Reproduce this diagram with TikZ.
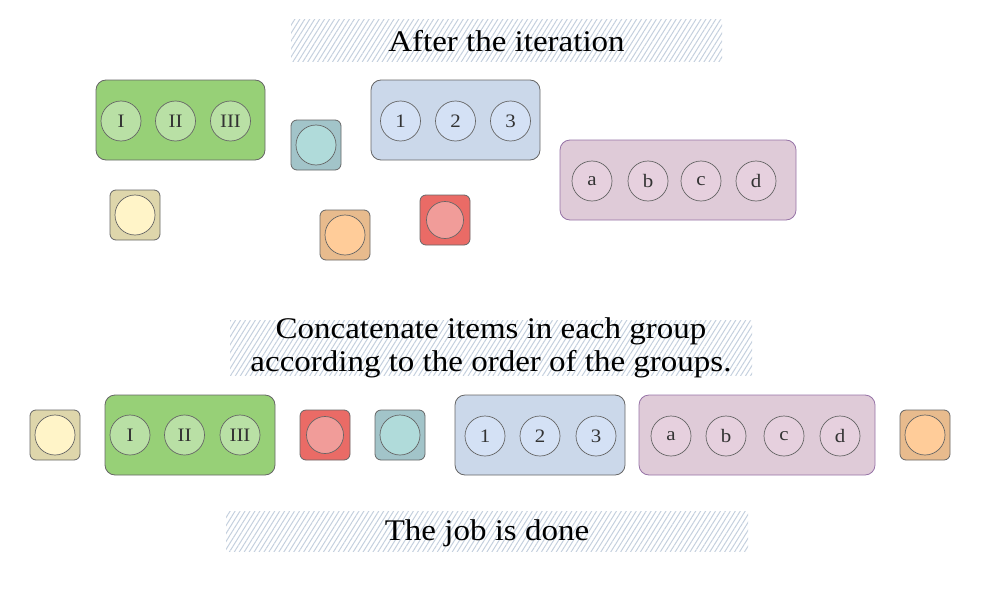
\documentclass[tikz,border=0pt]{standalone}
\usepackage{fontspec}
\setmainfont{Liberation Serif}[FakeStretch=1.1]
\usetikzlibrary{patterns.meta}
\definecolor{hatchc}{HTML}{C4D0DE}
\definecolor{strokec}{HTML}{666666}
\definecolor{grpgreen}{HTML}{97D077}
\definecolor{cirgreen}{HTML}{B9E0A5}
\definecolor{grpblue}{HTML}{CBD8EA}
\definecolor{cirblue}{HTML}{D4E1F5}
\definecolor{grppurple}{HTML}{DFCBD8}
\definecolor{cirpurple}{HTML}{E6D0DE}
\definecolor{strpurple}{HTML}{9673A6}
\definecolor{boxyellow}{HTML}{DED6AB}
\definecolor{ciryellow}{HTML}{FFF4C8}
\definecolor{boxteal}{HTML}{A2C4C9}
\definecolor{cirteal}{HTML}{B0DBDA}
\definecolor{boxorange}{HTML}{E8BB8D}
\definecolor{cirorange}{HTML}{FFCC99}
\definecolor{boxred}{HTML}{EA6B66}
\definecolor{cirred}{HTML}{F19C99}
\definecolor{labelc}{HTML}{333333}
\tikzset{
  hatchbox/.style={inner sep=0pt, pattern={Lines[angle=58,distance=4.2pt,line width=1pt]}, pattern color=hatchc},
  titletext/.style={inner sep=0pt, align=center, font=\fontsize{30}{33}\selectfont, text=black},
  grp/.style={draw=strokec, line width=0.8pt, rounded corners=10pt, minimum height=80pt, inner sep=0pt},
  sbox/.style={draw=strokec, line width=0.8pt, rounded corners=6pt, minimum width=50pt, minimum height=50pt, inner sep=0pt},
  item/.style={circle, draw=strokec, line width=0.7pt, minimum size=40pt, inner sep=0pt, text=labelc, font=\fontsize{19}{19}\selectfont},
  gitem/.style={item, fill=cirgreen},
  bitem/.style={item, fill=cirblue},
  pitem/.style={item, fill=cirpurple},
}
\begin{document}
\begin{tikzpicture}[x=1pt,y=-1pt]
\useasboundingbox (0,0) rectangle (981,602);
% titles
\node[hatchbox, minimum width=431pt, minimum height=41pt] (h1) at (506.5,40.5) {};
\node[titletext] (t1) at (506.5,41) {After the iteration};
\node[hatchbox, minimum width=522pt, minimum height=55pt] (h2) at (491,347.5) {};
\node[titletext] (t2) at (491,347.5) {Concatenate items in each group\\according to the order of the groups.};
\node[hatchbox, minimum width=522pt, minimum height=40pt] (h3) at (487,531) {};
\node[titletext] (t3) at (487,533) {The job is done};
% ---- top arrangement
\node[grp, fill=grpgreen, minimum width=169pt] (g1) at (180.5,120) {};
\node[gitem] (g1a) at (121,121) {I};
\node[gitem] (g1b) at (175.5,121) {II};
\node[gitem] (g1c) at (230.5,121) {III};
\node[grp, fill=grpblue, minimum width=169pt] (b1) at (455.5,120) {};
\node[bitem] (b1a) at (400.5,121) {1};
\node[bitem] (b1b) at (455.5,121) {2};
\node[bitem] (b1c) at (510.5,121) {3};
\node[grp, draw=strpurple, fill=grppurple, minimum width=236pt] (p1) at (678,180) {};
\node[pitem] (p1a) at (592,181) {a};
\node[pitem] (p1b) at (648,181) {b};
\node[pitem] (p1c) at (701,181) {c};
\node[pitem] (p1d) at (756,181) {d};
\node[sbox, fill=boxteal] (s1t) at (316,145) {};
\node[item, fill=cirteal] (c1t) at (316,145) {};
\node[sbox, fill=boxyellow] (s1y) at (135,215) {};
\node[item, fill=ciryellow] (c1y) at (135,215) {};
\node[sbox, fill=boxorange] (s1o) at (345,235) {};
\node[item, fill=cirorange] (c1o) at (345,235) {};
\node[sbox, fill=boxred] (s1r) at (445,220) {};
\node[item, fill=cirred, minimum size=37pt] (c1r) at (445,220) {};
% ---- bottom row
\node[sbox, fill=boxyellow] (s2y) at (55,435) {};
\node[item, fill=ciryellow] (c2y) at (55,435) {};
\node[grp, fill=grpgreen, minimum width=170pt] (g2) at (190,435) {};
\node[gitem] (g2a) at (130,435) {I};
\node[gitem] (g2b) at (184.5,435) {II};
\node[gitem] (g2c) at (240,435) {III};
\node[sbox, fill=boxred] (s2r) at (325,435) {};
\node[item, fill=cirred, minimum size=37pt] (c2r) at (325,435) {};
\node[sbox, fill=boxteal] (s2t) at (400,435) {};
\node[item, fill=cirteal] (c2t) at (400,435) {};
\node[grp, fill=grpblue, minimum width=170pt] (b2) at (540,435) {};
\node[bitem] (b2a) at (485,436) {1};
\node[bitem] (b2b) at (540,436) {2};
\node[bitem] (b2c) at (596,436) {3};
\node[grp, draw=strpurple, fill=grppurple, minimum width=236pt] (p2) at (757,435) {};
\node[pitem] (p2a) at (671,436) {a};
\node[pitem] (p2b) at (726,436) {b};
\node[pitem] (p2c) at (784,436) {c};
\node[pitem] (p2d) at (840,436) {d};
\node[sbox, fill=boxorange] (s2o) at (925,435) {};
\node[item, fill=cirorange] (c2o) at (925,435) {};
\end{tikzpicture}
\end{document}
